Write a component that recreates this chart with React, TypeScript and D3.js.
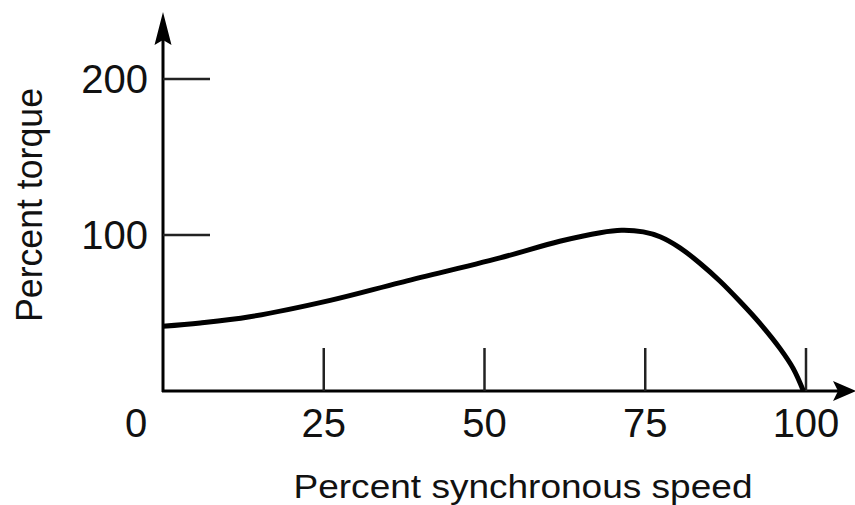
import React from "react";
import * as d3 from "d3";

const speed = [0, 5.8, 13.5, 26, 36.9, 52.4, 61.7, 68, 71.3, 74.7, 77.3, 80.4, 83.5, 86.6, 89.7, 92.8, 96, 98, 99.6];
const torque = [41.5, 43.6, 47.6, 58.1, 69.5, 85.3, 96, 101.5, 103, 102, 98.9, 91.8, 81.9, 70.5, 57.5, 43.5, 27, 14.5, 0];
const xTicks = [0, 25, 50, 75, 100];
const xTickMarks = [25, 50, 75, 100];
const yTicks = [100, 200];
const xTitle = "Percent synchronous speed";
const yTitle = "Percent torque";

const W = 855;
const H = 505;

export default function App() {
  const x = d3.scaleLinear().domain([0, 100]).range([163, 806]);
  const y = d3.scaleLinear().domain([0, 200]).range([391, 79]);
  const pts = speed.map((s, i) => [s, torque[i]] as [number, number]);
  const line = d3
    .line<[number, number]>()
    .x((d) => x(d[0]))
    .y((d) => y(d[1]))
    .curve(d3.curveCatmullRom.alpha(0.5));
  const x0 = x(0);
  const y0 = y(0);
  const font = "'Liberation Sans', Arial, sans-serif";
  return (
    <svg
      width={W}
      height={H}
      style={{ position: "absolute", left: 0, top: 0, background: "#fff" }}
    >
      {/* y axis */}
      <line x1={x0} x2={x0} y1={y0 + 1} y2={30} stroke="#000" strokeWidth={3} />
      <path d={`M${x0},12 L${x0 + 8.5},45 L${x0},40 L${x0 - 8.5},45 Z`} fill="#000" />
      {/* x axis */}
      <line x1={x0 - 1} x2={840} y1={y0} y2={y0} stroke="#000" strokeWidth={3} />
      <path d={`M856,${y0} L833,${y0 - 10} L838,${y0} L833,${y0 + 10} Z`} fill="#000" />
      {/* y ticks */}
      {yTicks.map((t) => (
        <g key={"yt" + t}>
          <line x1={x0} x2={210} y1={y(t)} y2={y(t)} stroke="#222" strokeWidth={2.5} />
          <text
            x={148}
            y={y(t)}
            textAnchor="end"
            dominantBaseline="central"
            fontFamily={font}
            fontSize={40}
            fill="#111"
          >
            {t}
          </text>
        </g>
      ))}
      {/* x tick marks */}
      {xTickMarks.map((t) => (
        <line key={"xm" + t} x1={x(t)} x2={x(t)} y1={y0} y2={348} stroke="#222" strokeWidth={2.5} />
      ))}
      {/* x tick labels */}
      {xTicks.map((t) => (
        <text
          key={"xl" + t}
          x={t === 0 ? 136 : x(t)}
          y={423}
          textAnchor="middle"
          dominantBaseline="central"
          fontFamily={font}
          fontSize={40}
          fill="#111"
        >
          {t}
        </text>
      ))}
      {/* curve */}
      <path d={line(pts) || ""} fill="none" stroke="#000" strokeWidth={5} strokeLinecap="butt" />
      {/* titles */}
      <text
        x={523}
        y={498}
        textAnchor="middle"
        fontFamily={font}
        fontSize={33}
        textLength={459}
        lengthAdjust="spacingAndGlyphs"
        fill="#111"
      >
        {xTitle}
      </text>
      <text
        transform={`translate(42,205) rotate(-90)`}
        textAnchor="middle"
        fontFamily={font}
        fontSize={37}
        textLength={234}
        lengthAdjust="spacingAndGlyphs"
        fill="#111"
      >
        {yTitle}
      </text>
    </svg>
  );
}
